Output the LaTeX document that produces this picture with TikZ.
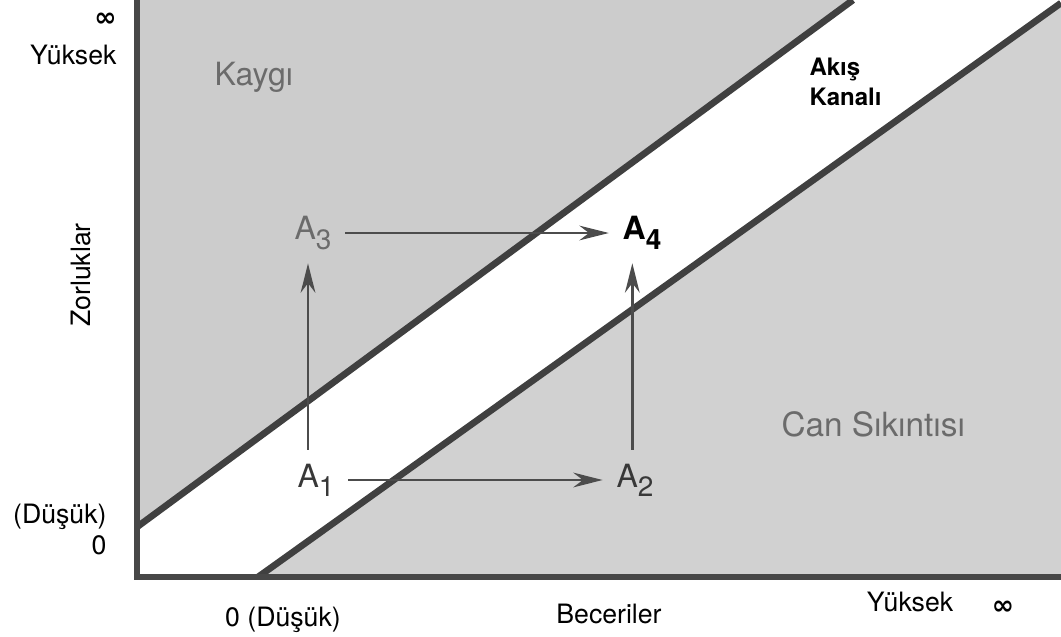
\documentclass[tikz,border=0pt]{standalone}
\usepackage{fontspec}
\setmainfont{TeX Gyre Heros}
\newfontfamily\symfont{DejaVu Sans}
\usepackage{tikz}
\usetikzlibrary{arrows.meta}
\newcommand{\Asub}[1]{A\raisebox{-0.55ex}{\fontsize{10.5}{12}\selectfont #1}}
\newcommand{\infsign}{{\symfont\bfseries ∞}}
\tikzset{
  axislbl/.style={font=\fontsize{10}{12}\selectfont, inner sep=0pt},
  zonelbl/.style={text=black!58, inner sep=0pt},
  stagelbl/.style={font=\fontsize{12}{14}\selectfont, inner sep=5pt, text=black!78},
  arr/.style={-{Stealth[length=11pt,width=5.5pt]}, line width=1.1pt, draw=black!70, fill=black!80},
  chanline/.style={line width=2.5pt, draw=black!75},
  axisline/.style={line width=2.1pt, draw=black!72, line join=miter},
  zoneup/.style={fill=black!20},
  zonedown/.style={fill=black!18},
}

\begin{document}
\begin{tikzpicture}[x=0.375pt, y=-0.375pt]
  \useasboundingbox (0,0) rectangle (1061,636);

  %% === Frame points ===
  \coordinate (ytop)  at (137,0);
  \coordinate (orig)  at (137,577);
  \coordinate (xend)  at (1061,577);
  \coordinate (upL)   at (137,527);
  \coordinate (upR)   at (853,0);
  \coordinate (loL)   at (258,577);
  \coordinate (loR)   at (1061,3);

  %% === Zones ===
  \fill[zoneup]   (ytop) -- (upL) -- (upR) -- cycle;
  \fill[zonedown] (loL) -- (loR) -- (xend) -- cycle;

  %% === Channel borders and axes ===
  \draw[chanline] (upL) -- (upR);
  \draw[chanline] (loL) -- (loR);
  \draw[axisline] (ytop) -- (orig) -- (xend);

  %% === Axis labels ===
  \node[axislbl, anchor=east] (inftop) at (117,20) {\infsign};
  \node[axislbl, anchor=east] (hightop) at (117,55) {Yüksek};
  \node[axislbl, anchor=east] (lowleft) at (107,517) {(Düşük)};
  \node[axislbl, anchor=east] (zeroleft) at (107,545) {0};
  \node[axislbl, rotate=90]   (zorluk) at (81,275) {Zorluklar};
  \node[axislbl]              (zerobot) at (283,620) {0 (Düşük)};
  \node[axislbl]              (beceri) at (609,614) {Beceriler};
  \node[axislbl]              (highbot) at (910,602) {Yüksek};
  \node[axislbl]              (infbot) at (1003,608) {\infsign};

  %% === Zone labels ===
  \node[zonelbl, font=\fontsize{12}{14}\selectfont, anchor=west] (kaygi) at (214,77) {Kaygı};
  \node[zonelbl, font=\fontsize{12.5}{14}\selectfont, anchor=west] (sikinti) at (781,424) {Can Sıkıntısı};
  \node[font=\bfseries\fontsize{9}{11.25}\selectfont, align=left, anchor=west, inner sep=0pt]
        (kanal) at (809,82) {Akış\\Kanalı};

  %% === Stages ===
  \node[stagelbl]                 (a1) at (316,480) {\Asub{1}};
  \node[stagelbl]                 (a2) at (635,480) {\Asub{2}};
  \node[stagelbl, text=black!58]  (a3) at (313,233) {\Asub{3}};
  \node[stagelbl, text=black, font=\bfseries\fontsize{12}{14}\selectfont] (a4) at (642,233) {\Asub{4}};

  %% === Moves ===
  \draw[arr] (a1) -- (a2);
  \draw[arr] (a3) -- (a4);
  \draw[arr] ([xshift=-3pt]a1.north) -- ([xshift=-3pt]a1.north |- a3.south);
  \draw[arr] ([xshift=-1pt]a2.north) -- ([xshift=-1pt]a2.north |- a4.south);
\end{tikzpicture}
\end{document}
